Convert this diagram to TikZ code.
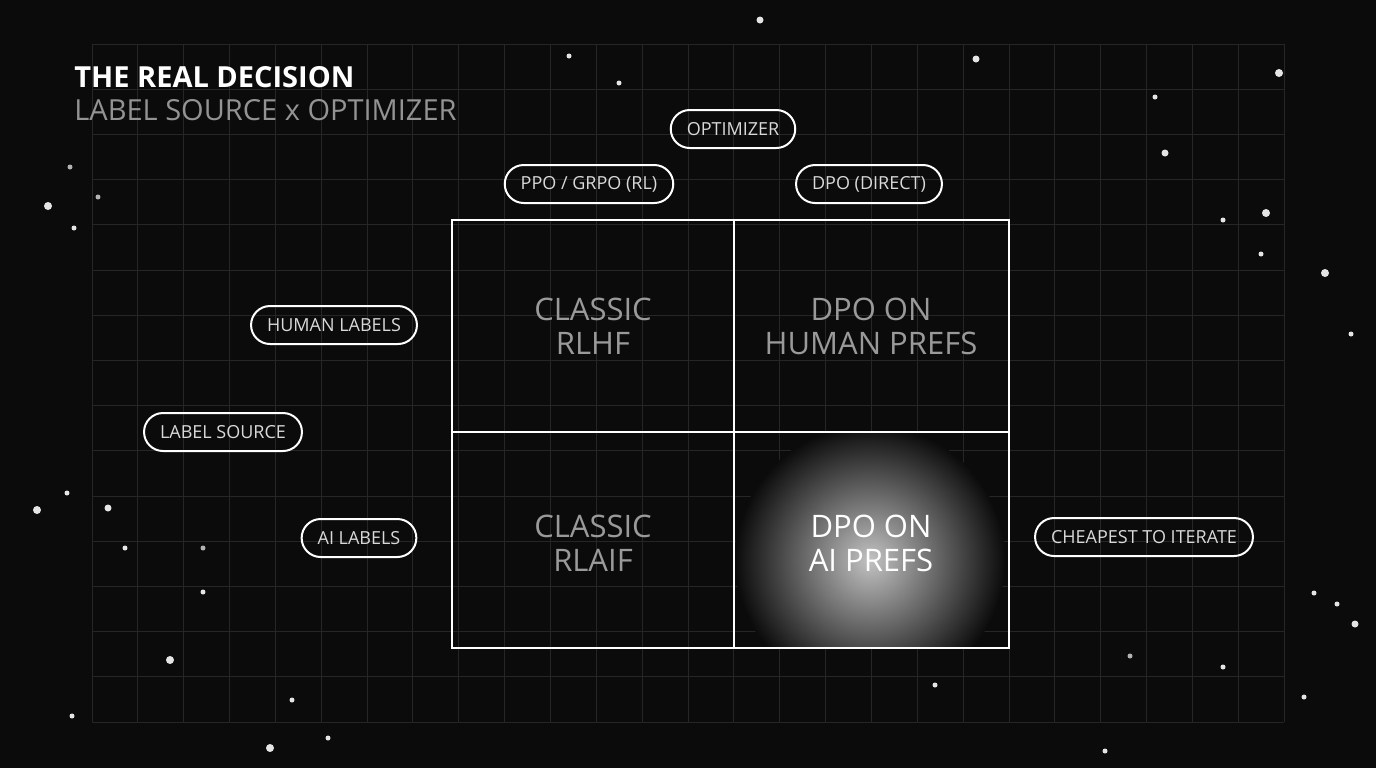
\documentclass[tikz,border=0pt]{standalone}
\usepackage{fontspec}
\setmainfont{Open Sans}
\usetikzlibrary{positioning}
\definecolor{bgc}{HTML}{0B0B0B}
\definecolor{gridc}{HTML}{262626}
\definecolor{cellc}{HTML}{9A9A9A}
\tikzset{
  pill/.style={draw=white,line width=1pt,rounded corners=9.5pt,text=white!85!black,
    minimum height=19pt,inner xsep=8pt,font=\fontsize{9}{10}\selectfont},
  cell/.style={text=cellc,align=center,font=\fontsize{15.5}{17}\selectfont},
  star/.style={fill=white!90!black}
}
\begin{document}
\begin{tikzpicture}[x=0.5pt,y=-0.5pt]
\fill[bgc] (0,0) rectangle (1376,768);
\useasboundingbox (0,0) rectangle (1376,768);
% grid
\foreach \i in {0,...,26} \draw[gridc,line width=0.5pt] (92+\i*45.85,44) -- (92+\i*45.85,722);
\foreach \j in {0,...,15} \draw[gridc,line width=0.5pt] (92,44+\j*45.2) -- (1284,44+\j*45.2);
% glow
\begin{scope}
\clip (734,432) rectangle (1009,648);
\shade[inner color=gray!48,outer color=bgc] (870,560) circle (135);
\end{scope}
% stars
\foreach \x/\y/\r in {760/20/3.5,569/56/2.5,619/83/2.5,976/59/3.5,1279/73/4,1155/97/2.5,1165/153/3.5,
  48/206/4,74/228/2.5,1223/220/2.5,1266/213/4,1261/254/2.5,1325/273/4,1351/334/2.5,
  37/510/4,67/493/2.5,108/508/3.5,125/548/2.5,203/592/2.5,1314/593/2.5,1337/604/2.5,1355/624/3.5,
  170/660/4,1223/667/2.5,935/685/2.5,1304/697/2.5,292/700/2.5,72/716/2.5,328/738/2.5,270/748/4,1105/751/2.5}
  \fill[star] (\x,\y) circle (\r);
\foreach \x/\y in {98/197,203/548,1130/656,70/167} \fill[gray!60] (\x,\y) circle (2.5);
% title
\node[anchor=west,inner sep=0pt,text=white,font=\fontsize{14.5}{16}\selectfont\bfseries] (title) at (74,77) {THE REAL DECISION};
\node[anchor=west,inner sep=0pt,text=gray!85,font=\fontsize{14.5}{16}\selectfont] (subtitle) at (74,110) {LABEL SOURCE x OPTIMIZER};
% matrix
\draw[white,line width=1pt] (452,220) rectangle (1009,648) (734,220) -- (734,648) (452,432) -- (1009,432);
\node[cell] (rlhf) at (593,326) {CLASSIC\\RLHF};
\node[cell] (dpoh) at (871,326) {DPO ON\\HUMAN PREFS};
\node[cell] (rlaif) at (593,543) {CLASSIC\\RLAIF};
\node[cell,text=white] (dpoa) at (871,543) {DPO ON\\AI PREFS};
% pills
\node[pill] (opt) at (733,129) {OPTIMIZER};
\node[pill] (ppo) at (589,184) {PPO / GRPO (RL)};
\node[pill] (dpo) at (869,184) {DPO (DIRECT)};
\node[pill] (human) at (334,325) {HUMAN LABELS};
\node[pill] (source) at (223,432) {LABEL SOURCE};
\node[pill] (ai) at (359,538) {AI LABELS};
\node[pill] (cheap) at (1144,537) {CHEAPEST TO ITERATE};
\end{tikzpicture}
\end{document}
